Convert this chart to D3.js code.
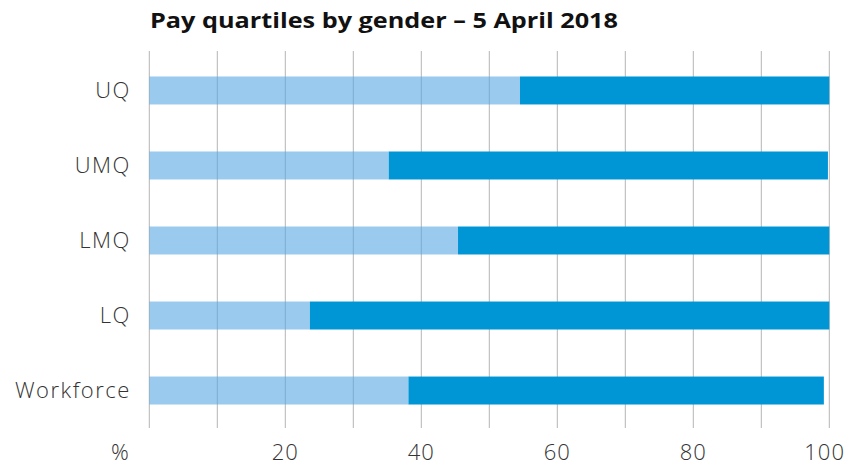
<!DOCTYPE html>
<html>
<head>
<meta charset="utf-8">
<script src="https://cdn.jsdelivr.net/npm/d3@7"></script>
<style>
  body { margin: 0; background: #fff; }
  svg { display: block; font-family: "Open Sans", "Lato", sans-serif; }
</style>
</head>
<body>
<div id="chart"></div>
<script>
const width = 849;
const height = 466;

const title = "Pay quartiles by gender – 5 April 2018";
const categories = ["UQ", "UMQ", "LMQ", "LQ", "Workforce"];
const women = [54.5, 35.2, 45.4, 23.6, 38.1];
const men = [45.5, 64.6, 54.6, 76.4, 61.1];
const tickValues = [20, 40, 60, 80, 100];
const gridValues = d3.range(0, 101, 10);
const unitLabel = "%";

const svg = d3.select("#chart")
  .append("svg")
  .attr("width", width)
  .attr("height", height);

const x = d3.scaleLinear()
  .domain([0, 100])
  .range([149.3, 829.3]);

const y = d3.scaleBand()
  .domain(categories)
  .range([53, 428])
  .paddingInner(0.627)
  .paddingOuter(0.313);

// title
svg.append("text")
  .attr("x", 150)
  .attr("y", 28)
  .attr("textLength", 468)
  .attr("lengthAdjust", "spacingAndGlyphs")
  .style("font-size", "22px")
  .style("font-weight", "bold")
  .attr("fill", "#111")
  .text(title);

// gridlines
svg.selectAll(".grid")
  .data(gridValues)
  .enter().append("line")
  .attr("class", "grid")
  .attr("x1", d => x(d))
  .attr("x2", d => x(d))
  .attr("y1", 51)
  .attr("y2", 428)
  .attr("stroke", "#b5b5b5")
  .attr("stroke-width", 1);

// dark (men) part
svg.selectAll(".men")
  .data(categories)
  .enter().append("rect")
  .attr("class", "men")
  .attr("x", (d, i) => x(women[i]))
  .attr("y", d => y(d))
  .attr("width", (d, i) => x(women[i] + men[i]) - x(women[i]))
  .attr("height", y.bandwidth())
  .attr("fill", "#0096d6");

// light (women) part, slightly see-through
svg.selectAll(".women")
  .data(categories)
  .enter().append("rect")
  .attr("class", "women")
  .attr("x", x(0))
  .attr("y", d => y(d))
  .attr("width", (d, i) => x(women[i]) - x(0))
  .attr("height", y.bandwidth())
  .attr("fill", "#57a7e3")
  .attr("fill-opacity", 0.6);

// category labels (x nudged to offset the trailing letter-spacing)
svg.selectAll(".cat")
  .data(categories)
  .enter().append("text")
  .attr("class", "cat")
  .attr("x", 130.8)
  .attr("y", d => y(d) + y.bandwidth() / 2)
  .attr("dy", "0.35em")
  .attr("text-anchor", "end")
  .style("font-size", "22px")
  .style("font-weight", 300)
  .style("letter-spacing", "1.5px")
  .attr("fill", "#333")
  .text(d => d);

// x tick labels
const tickLabels = svg.selectAll(".tick-label")
  .data(tickValues)
  .enter().append("text")
  .attr("class", "tick-label")
  .attr("x", d => x(d))
  .attr("y", 452)
  .attr("dy", "0.35em")
  .attr("text-anchor", "middle")
  .style("font-size", "22px")
  .style("font-weight", 300)
  .style("letter-spacing", "1px")
  .attr("fill", "#333")
  .text(d => d);

// keep the last label inside the frame
tickLabels.each(function (d) {
  const b = this.getBBox();
  const over = b.x + b.width - (width - 4);
  if (over > 0) d3.select(this).attr("x", x(d) - over);
});

svg.append("text")
  .attr("x", 120)
  .attr("y", 452)
  .attr("dy", "0.35em")
  .attr("text-anchor", "middle")
  .style("font-size", "22px")
  .style("font-weight", 300)
  .attr("fill", "#333")
  .text(unitLabel);
</script>
</body>
</html>
